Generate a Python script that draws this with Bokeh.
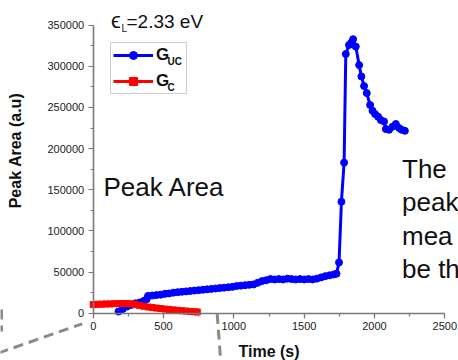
import math
from bokeh.plotting import figure
from bokeh.models import (Range1d, Label, Legend, LegendItem, Arrow,
                          SingleIntervalTicker, BasicTickFormatter)
from bokeh.embed import file_html
from bokeh.resources import INLINE

# ---------------- data ----------------
guc_time = [180, 210, 240, 270, 300, 330, 360, 380, 390, 420, 450, 480, 510, 540,
            570, 600, 630, 660, 690, 720, 750, 780, 810, 840, 870, 900, 930, 960,
            990, 1020, 1050, 1080, 1110, 1140, 1170, 1200, 1230, 1260, 1290, 1320,
            1350, 1380, 1410, 1440, 1470, 1500, 1530, 1560, 1590, 1620, 1650, 1680,
            1710, 1730, 1748, 1765, 1784, 1796, 1819, 1836, 1848, 1867, 1891, 1907,
            1926, 1945, 1969, 1986, 2004, 2026, 2045, 2068, 2081, 2104, 2128, 2152,
            2175, 2192, 2216]
guc_area = [2000, 5000, 8000, 10000, 12000, 13000, 15000, 17000, 21000, 21500,
            22000, 22500, 23500, 24000, 25000, 25500, 26000, 26500, 27000, 27500,
            28000, 28500, 29000, 29500, 30000, 30500, 31000, 31500, 32000, 33000,
            33500, 34000, 34500, 35000, 37000, 39000, 40000, 41500, 41000, 41500,
            41000, 42000, 41500, 41000, 41500, 41000, 41500, 41000, 42000, 43500,
            45000, 46000, 47000, 48000, 61700, 135500, 183000, 315000, 326000,
            329000, 333000, 324000, 301500, 287700, 276000, 267500, 253000, 246000,
            242000, 238800, 234700, 233000, 223800, 223000, 226600, 229900, 225000,
            223000, 221700]

gc_time = [0, 30, 60, 90, 120, 150, 180, 210, 240, 270, 300, 330, 360, 390, 420,
           450, 480, 510, 540, 570, 600, 630, 660, 690, 720, 740]
gc_area = [10500, 10800, 11000, 11200, 11300, 11500, 11600, 11800, 11800, 11500,
           10500, 9500, 8500, 7500, 6800, 6200, 5600, 5000, 4500, 4000, 3500, 3000,
           2600, 2200, 1800, 1500]

series_names = ["G", "G"]
series_subs = ["UC", "C"]
x_axis_bounds = (0, 2500)
y_axis_bounds = (0, 350000)
x_tick_step = 500
y_tick_step = 50000

# ---------------- geometry: the frame covers the whole canvas ----------------
W, H = 458, 360
AX_L, AX_R = 92.7, 444.3      # pixel x of time 0 and 2500
AX_B, AX_T = 312.7, 24.7      # pixel y of area 0 and 350000
kx = (AX_R - AX_L) / (x_axis_bounds[1] - x_axis_bounds[0])
ky = (AX_B - AX_T) / (y_axis_bounds[1] - y_axis_bounds[0])

def dx(px):
    return x_axis_bounds[0] + (px - AX_L) / kx

def dy(py):
    return y_axis_bounds[0] + (AX_B - py) / ky

p = figure(width=W, height=H, output_backend="svg", toolbar_location=None,
           title=None,
           x_range=Range1d(dx(0), dx(W)), y_range=Range1d(dy(H), dy(0)),
           min_border_left=0, min_border_right=0, min_border_top=0,
           min_border_bottom=0)
p.outline_line_color = None
p.xgrid.visible = False
p.ygrid.visible = False
p.background_fill_color = "white"
p.border_fill_color = "white"

FONT = "Liberation Sans"
p.xaxis.ticker = SingleIntervalTicker(interval=x_tick_step, num_minor_ticks=2)
p.yaxis.ticker = SingleIntervalTicker(interval=y_tick_step, num_minor_ticks=2)
p.yaxis.formatter = BasicTickFormatter(use_scientific=False)
p.xaxis.fixed_location = y_axis_bounds[0]
p.yaxis.fixed_location = x_axis_bounds[0]
p.xaxis.bounds = x_axis_bounds
p.yaxis.bounds = y_axis_bounds
for ax in (p.xaxis[0], p.yaxis[0]):
    ax.axis_line_color = "#7a7a7a"
    ax.axis_line_width = 1.6
    ax.major_tick_line_color = "#7a7a7a"
    ax.minor_tick_line_color = "#7a7a7a"
    ax.major_tick_line_width = 1.2
    ax.minor_tick_line_width = 1.2
    ax.major_tick_in = 0
    ax.major_tick_out = 5
    ax.minor_tick_in = 0
    ax.minor_tick_out = 3
    ax.major_label_text_font = FONT
    ax.major_label_text_font_size = "11px"
    ax.major_label_text_color = "#222222"
    ax.major_label_standoff = 4

# ---------------- data series ----------------
r_uc_line = p.line(guc_time, guc_area, line_color="#0000ff", line_width=3)
r_uc_pts = p.scatter(guc_time, guc_area, marker="circle", size=7,
                     fill_color="#0000ff", line_color="#0000ff")
r_c_line = p.line(gc_time, gc_area, line_color="#ff0000", line_width=3)
r_c_pts = p.scatter(gc_time, gc_area, marker="square", size=6,
                    fill_color="#ff0000", line_color="#ff0000")

legend = Legend(items=[LegendItem(label=series_names[0], renderers=[r_uc_line, r_uc_pts]),
                       LegendItem(label=series_names[1], renderers=[r_c_line, r_c_pts])],
                location=(110, H - 94.3),
                border_line_color="#a0a0a0", border_line_width=1,
                background_fill_color="white", background_fill_alpha=0,
                padding=2, margin=0, spacing=6, glyph_width=40, glyph_height=20,
                label_height=20, label_width=28, label_standoff=3,
                label_text_font=FONT, label_text_font_size="17px",
                label_text_font_style="bold", label_text_color="#111111")
p.add_layout(legend, "center")

def lab(text, px, py, size, style="normal", align="left", baseline="alphabetic",
        angle=0.0, color="#111111"):
    if baseline == "alphabetic":
        py = py - 0.38 * size   # empirical correction of the renderer's baseline
    p.add_layout(Label(x=dx(px), y=dy(py), text=text, text_font=FONT,
                       text_font_size=f"{size}px", text_font_style=style,
                       text_align=align, text_baseline=baseline, angle=angle,
                       text_color=color))

# legend subscripts
lab(series_subs[0], 167, 65, 10, "bold")
lab(series_subs[1], 167, 91, 10, "bold")

# title epsilon_L = 2.33 eV
lab("\u03f5", 110.5, 28.5, 22)
lab("L", 121, 31.5, 10)
lab("=2.33 eV", 126, 28.5, 19)

# axis titles
lab("Peak Area (a.u)", 15, 150, 16, "bold", align="center", baseline="middle",
    angle=math.pi / 2)
lab("Time (s)", 268.5, 357, 16, "bold", align="center")

# slide texts
lab("Peak Area", 103, 196.5, 26)
for txt, yb in zip(["The", "peak", "mea", "be th"], [178, 211.5, 245, 278.5]):
    lab(txt, 401.5, yb, 26)

# dashed call-out lines
for (xa, ya, xb, yb) in [(-2, 352.5, 81.7, 323.3), (216.7, 313.3, 220.5, 365),
                         (1, 309, 1, 331)]:
    p.add_layout(Arrow(end=None, x_start=dx(xa), y_start=dy(ya), x_end=dx(xb),
                       y_end=dy(yb), line_color="#8a8a8a", line_width=3,
                       line_dash="10 6"))

open("out.html", "w").write(file_html(p, INLINE))
